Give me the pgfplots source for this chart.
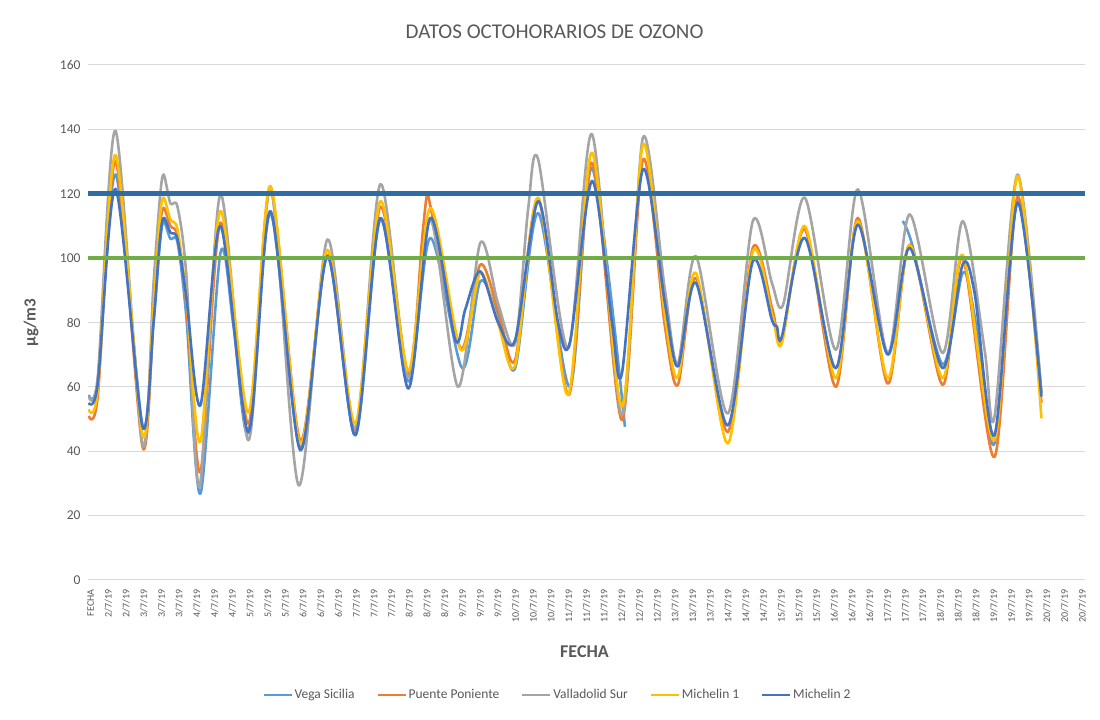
\documentclass[border=0pt]{standalone}
\usepackage{pgfplots}
\pgfplotsset{compat=1.18}
\usepackage{fontspec}
\setmainfont{Carlito}
\definecolor{txt}{HTML}{595959}
\definecolor{grd}{HTML}{D9D9D9}
\definecolor{cvega}{HTML}{5B9BD5}
\definecolor{cpuente}{HTML}{ED7D31}
\definecolor{cvall}{HTML}{A5A5A5}
\definecolor{cmich1}{HTML}{FFC000}
\definecolor{cmich2}{HTML}{4472C4}
\definecolor{clim}{HTML}{2E6DA4}
\definecolor{cgreen}{HTML}{70AD47}
\begin{document}
\begin{tikzpicture}
\useasboundingbox (0,0) rectangle (1100bp,720bp);
\begin{axis}[
  at={(88bp,140bp)}, anchor=south west,
  scale only axis, width=997bp, height=515bp,
  xmin=-0.15, xmax=56.15, ymin=0, ymax=160,
  ytick={0,20,...,160},
  xtick={0,...,56},
  xticklabels={FECHA,2/7/19,2/7/19,3/7/19,3/7/19,3/7/19,4/7/19,4/7/19,4/7/19,5/7/19,5/7/19,5/7/19,6/7/19,6/7/19,6/7/19,7/7/19,7/7/19,7/7/19,8/7/19,8/7/19,8/7/19,9/7/19,9/7/19,9/7/19,10/7/19,10/7/19,10/7/19,11/7/19,11/7/19,11/7/19,12/7/19,12/7/19,12/7/19,13/7/19,13/7/19,13/7/19,14/7/19,14/7/19,14/7/19,15/7/19,15/7/19,15/7/19,16/7/19,16/7/19,16/7/19,17/7/19,17/7/19,17/7/19,18/7/19,18/7/19,18/7/19,19/7/19,19/7/19,19/7/19,20/7/19,20/7/19,20/7/19},
  x tick label style={rotate=90, anchor=east, font=\fontsize{10bp}{10bp}\selectfont, color=txt},
  y tick label style={font=\fontsize{13.5bp}{13.5bp}\selectfont, color=txt},
  /pgf/number format/assume math mode=true,
  major tick length=0pt,
  xticklabel shift=6bp, yticklabel shift=4bp,
  axis line style={draw=none},
  ymajorgrids, grid style={grd, line width=1bp},
  xmajorgrids=false,
  title={DATOS OCTOHORARIOS DE OZONO},
  title style={at={(0.468,1.052)}, anchor=center, font=\fontsize{21bp}{21bp}\selectfont, color=txt},
  ylabel={µg/m3},
  ylabel style={at={(-0.057,0.5)}, anchor=center, rotate=0, font=\bfseries\fontsize{17bp}{17bp}\selectfont, color=txt},
  xlabel={FECHA},
  xlabel style={at={(0.498,-0.14)}, anchor=center, font=\bfseries\fontsize{18bp}{18bp}\selectfont, color=txt},
  legend columns=5,
  legend style={at={(0.471,-0.223)}, anchor=center, draw=none, fill=none, font=\fontsize{13.5bp}{13.5bp}\selectfont, text=txt,
    /tikz/every even column/.append style={column sep=20bp}},
  legend image code/.code={\draw[#1, line width=2bp] (0bp,0bp) -- (28bp,0bp);},
  unbounded coords=jump,
  every axis plot/.append style={line width=2.6bp, smooth, tension=0.5, line join=round},
]
% Vega Sicilia
\addplot[cvega] coordinates {(-0.11,57.5) (0.4,62) (1.41,126) (2.93,48) (3.55,80) (3.9,104) (4.12,111.5) (4.5,106) (4.9,105) (5.4,82) (6.20,26.8) (7.33,101.6) (8.07,78.7) (8.91,46) (10.15,114) (11.84,41) (13.37,100.6) (14.95,45) (16.36,112) (17.94,61.6) (19.18,106.3) (20.98,65.8) (22.0,92.8) (23.0,82) (23.97,65.8) (25.27,114) (27.07,60) (28.31,128) (30.17,47.6) (38,nan) (45.85,111.5) (46.4,104) (48.11,67) (49.24,95.4) (49.92,81.9) (51.04,42.4) (52.34,118) (53.69,58)};
\addlegendentry{Vega Sicilia}
% Puente Poniente
\addplot[cpuente] coordinates {(-0.11,51) (0.4,57) (1.41,130) (2.93,41.3) (3.55,82) (3.9,109) (4.12,115.6) (4.5,110) (4.9,107) (5.4,86) (6.20,33.5) (7.33,111) (8.91,48.6) (10.15,121.4) (11.84,43.4) (13.37,101) (14.95,46.5) (16.36,116) (17.94,64) (18.75,108) (19.0,119.5) (19.25,114.5) (20.9,72) (22.0,98) (23.0,84) (23.97,68.4) (25.27,118.5) (27.0,57.5) (28.31,129.7) (30.0,49.7) (31.19,130.7) (32.43,78.7) (33.16,60.6) (34.18,93.8) (35.98,46) (37.39,103.2) (38.5,84) (39.03,74.6) (40.33,109) (42.08,60) (43.32,112.5) (45.01,61) (46.25,104.2) (48.11,60.6) (49.24,100) (51.04,38.2) (52.34,119) (53.69,55)};
\addlegendentry{Puente Poniente}
% Valladolid Sur
\addplot[cvall] coordinates {(-0.11,57) (0.4,63) (1.41,139.5) (2.93,42) (3.55,92) (3.9,118) (4.12,126) (4.5,117) (4.9,116) (5.4,95) (6.15,29) (7.33,119.8) (8.91,43.4) (10.15,122) (11.75,29.4) (13.37,105.8) (14.95,47) (16.36,123) (17.94,63) (19.18,112) (20.75,60) (22.0,104.7) (23.0,86) (23.97,73.5) (24.7,115) (25.27,130.7) (26.96,72) (28.31,138.5) (30.0,51.2) (31.19,137.5) (32.43,90) (33.16,67.3) (34.18,100.6) (35.98,51.7) (37.39,111.5) (38.47,92.3) (39.1,85.5) (40.33,118.8) (42.08,71.5) (43.32,121.4) (45.01,70.5) (46.25,113.6) (48.11,70.5) (49.24,111.5) (50.48,71.5) (51.04,50.7) (52.34,126) (53.69,58)};
\addlegendentry{Valladolid Sur}
% Michelin 1
\addplot[cmich1] coordinates {(-0.11,53) (0.4,59) (1.41,132) (2.93,45) (3.55,85) (3.9,112) (4.12,118.8) (4.5,112) (4.9,109) (5.4,88) (6.20,43) (7.33,114.6) (8.91,52) (10.15,122.4) (11.84,42.4) (13.37,102.6) (14.95,48.6) (16.36,117.7) (17.94,65) (19.18,115.6) (20.9,71.5) (22.0,95.4) (23.0,80) (23.97,66.8) (25.27,118.8) (26.96,57.5) (28.31,132.8) (30.0,53.8) (31.19,135.4) (32.43,82) (33.16,63) (34.18,95.4) (35.98,42.4) (37.39,102) (38.5,82) (39.03,73.6) (40.33,110) (42.08,62.7) (43.32,111.5) (45.01,62.7) (46.25,104) (48.11,62.7) (49.24,101) (51.04,43.4) (52.34,125.5) (53.69,50.2)};
\addlegendentry{Michelin 1}
% Michelin 2
\addplot[cmich2] coordinates {(-0.11,55) (0.4,61) (1.41,121.5) (2.93,47.6) (3.55,80) (3.9,105) (4.12,112.5) (4.5,108) (4.9,106) (5.4,88) (6.20,54.3) (7.33,110) (8.91,46) (10.15,114.6) (11.84,40.3) (13.37,100.6) (14.95,45) (16.36,112.5) (17.94,59.5) (19.18,112.5) (20.59,74.6) (21.15,84) (22.0,95.9) (23.01,80) (23.97,74.6) (25.27,117.7) (26.4,79.8) (27.07,74) (28.31,124) (29.44,80) (30.0,64.2) (31.19,127.6) (32.43,86) (33.16,66.3) (34.18,92.3) (35.98,48) (37.39,99) (38.47,80.8) (38.75,78.8) (39.03,75.6) (40.33,106.3) (42.08,65.8) (43.32,110.4) (45.01,70) (46.25,103.2) (48.11,65.8) (49.24,98) (49.92,89) (51.04,45) (52.34,117.2) (53.69,57)};
\addlegendentry{Michelin 2}
% limit lines
\addplot[clim, line width=4.5bp, forget plot, sharp plot] coordinates {(-0.15,120) (56.15,120)};
\addplot[cgreen, line width=3.5bp, forget plot, sharp plot] coordinates {(-0.15,100) (56.15,100)};
\end{axis}
\end{tikzpicture}
\end{document}
